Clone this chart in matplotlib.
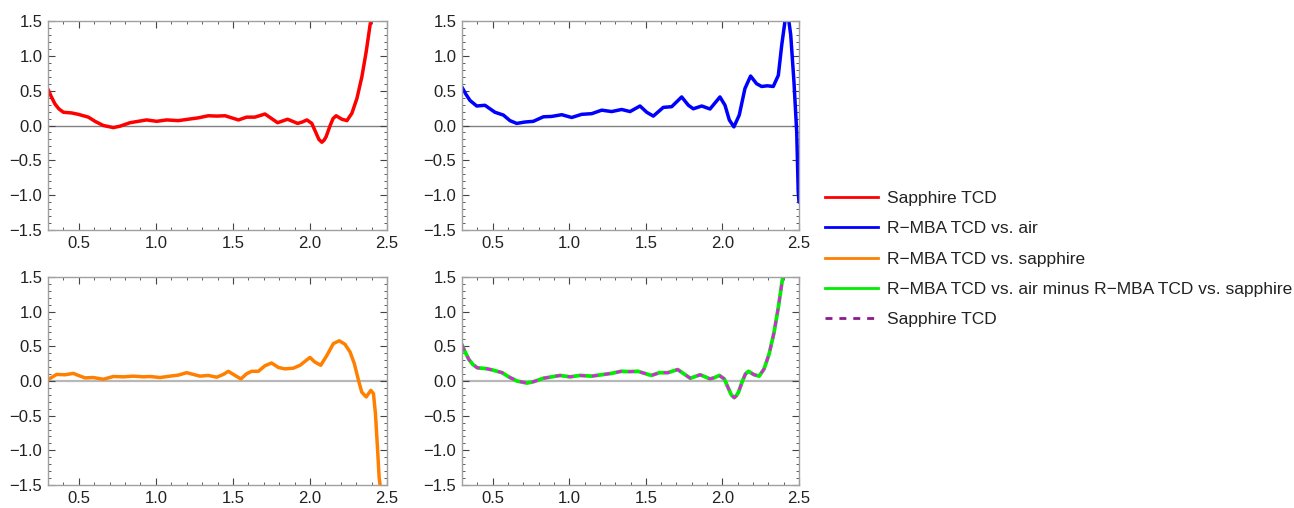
import matplotlib.pyplot as plt
from matplotlib.lines import Line2D
from matplotlib.ticker import MultipleLocator

plt.rcParams["font.family"] = ["Liberation Sans", "DejaVu Sans"]

# values
sapphire_x = [0.300, 0.320, 0.345, 0.370, 0.400, 0.454, 0.497, 0.562, 0.605, 0.659,
              0.724, 0.767, 0.832, 0.886, 0.940, 1.005, 1.070, 1.146, 1.210, 1.276,
              1.340, 1.395, 1.449, 1.492, 1.536, 1.589, 1.643, 1.708, 1.751, 1.790,
              1.855, 1.920, 1.950, 1.980, 2.012, 2.040, 2.058, 2.077, 2.092, 2.105,
              2.131, 2.150, 2.170, 2.207, 2.240, 2.272, 2.305, 2.337, 2.365, 2.390,
              2.420]
sapphire_y = [0.52, 0.42, 0.31, 0.24, 0.19, 0.18, 0.16, 0.12, 0.06, 0.00,
              -0.03, -0.01, 0.04, 0.06, 0.08, 0.06, 0.08, 0.07, 0.09, 0.11,
              0.14, 0.135, 0.14, 0.11, 0.08, 0.12, 0.12, 0.165, 0.10, 0.04,
              0.09, 0.03, 0.05, 0.08, 0.03, -0.11, -0.20, -0.24, -0.21, -0.16,
              0.00, 0.10, 0.14, 0.09, 0.07, 0.175, 0.39, 0.70, 1.06, 1.44,
              1.85]

air_x = [0.300, 0.325, 0.352, 0.396, 0.450, 0.515, 0.570, 0.613, 0.657, 0.711,
         0.766, 0.831, 0.885, 0.951, 1.016, 1.081, 1.147, 1.212, 1.277, 1.342,
         1.397, 1.462, 1.506, 1.549, 1.614, 1.669, 1.734, 1.778, 1.810, 1.865,
         1.919, 1.984, 2.017, 2.045, 2.075, 2.110, 2.147, 2.184, 2.223, 2.256,
         2.293, 2.332, 2.365, 2.387, 2.408, 2.418, 2.430, 2.446, 2.467, 2.485,
         2.495, 2.500]
air_y = [0.55, 0.45, 0.36, 0.28, 0.29, 0.19, 0.15, 0.07, 0.03, 0.05,
         0.06, 0.125, 0.13, 0.155, 0.115, 0.16, 0.17, 0.22, 0.20, 0.23,
         0.20, 0.28, 0.19, 0.135, 0.26, 0.27, 0.41, 0.29, 0.24, 0.28,
         0.237, 0.41, 0.29, 0.08, -0.02, 0.15, 0.53, 0.71, 0.60, 0.56,
         0.57, 0.56, 0.72, 1.15, 1.49, 1.62, 1.56, 1.30, 0.63, -0.09,
         -0.95, -1.10]

vs_sapphire_x = [0.300, 0.356, 0.410, 0.465, 0.497, 0.540, 0.594, 0.659, 0.724, 0.789,
                 0.854, 0.919, 0.962, 1.027, 1.092, 1.146, 1.200, 1.243, 1.286, 1.340,
                 1.395, 1.438, 1.470, 1.514, 1.552, 1.589, 1.622, 1.665, 1.708, 1.751,
                 1.795, 1.838, 1.892, 1.936, 2.000, 2.031, 2.070, 2.110, 2.152, 2.190,
                 2.227, 2.260, 2.288, 2.315, 2.336, 2.365, 2.395, 2.412, 2.425, 2.438,
                 2.449, 2.455, 2.470]
vs_sapphire_y = [0.02, 0.095, 0.09, 0.11, 0.08, 0.045, 0.05, 0.025, 0.065, 0.06,
                 0.07, 0.06, 0.065, 0.05, 0.07, 0.085, 0.12, 0.095, 0.07, 0.08,
                 0.055, 0.095, 0.14, 0.08, 0.03, 0.105, 0.14, 0.14, 0.22, 0.26,
                 0.195, 0.175, 0.185, 0.227, 0.34, 0.275, 0.227, 0.37, 0.54, 0.58,
                 0.53, 0.42, 0.25, 0.01, -0.16, -0.23, -0.135, -0.18, -0.47, -0.955,
                 -1.39, -1.50, -2.00]

# air minus vs. sapphire comes out the same as the sapphire TCD
difference_x = sapphire_x
difference_y = sapphire_y

legend_labels = ["Sapphire TCD", "R\u2212MBA TCD vs. air", "R\u2212MBA TCD vs. sapphire",
                 "R\u2212MBA TCD vs. air minus R\u2212MBA TCD vs. sapphire", "Sapphire TCD"]

fig = plt.figure(figsize=(12.94, 5.08), dpi=100)
W, H = 1294, 508
boxes = [(48, 21, 387, 230), (462, 21, 799, 230), (48, 277, 387, 485), (462, 277, 799, 485)]
axes = [fig.add_axes([x0 / W, 1 - y1 / H, (x1 - x0) / W, (y1 - y0) / H]) for x0, y0, x1, y1 in boxes]

for i, ax in enumerate(axes):
    ax.set_xlim(0.3, 2.5)
    ax.set_ylim(-1.5, 1.5)
    ax.xaxis.set_major_locator(MultipleLocator(0.5))
    ax.xaxis.set_minor_locator(MultipleLocator(0.1))
    ax.yaxis.set_major_locator(MultipleLocator(0.5))
    ax.yaxis.set_minor_locator(MultipleLocator(0.1))
    ax.tick_params(which="both", direction="in", top=True, right=True, color="#444444")
    ax.tick_params(which="major", length=5, width=0.8, labelsize=12, labelcolor="#222222", pad=4)
    ax.tick_params(which="minor", length=2.5, width=0.6)
    for s in ax.spines.values():
        s.set_color("#a0a0a0")
        s.set_linewidth(1.0)
    zero_col = "#808080" if i < 2 else "#b8b8b8"
    ax.axhline(0, color=zero_col, lw=1.0 if i < 2 else 1.6, zorder=1)
    ax.yaxis.set_major_formatter(plt.FuncFormatter(lambda v, p: f"{v:.1f}".replace("-", "\u2212")))

style = dict(lw=2.5, solid_capstyle="round", solid_joinstyle="round")
axes[0].plot(sapphire_x, sapphire_y, color="#ff0000", **style)
axes[1].plot(air_x, air_y, color="#0000ff", **style)
axes[2].plot(vs_sapphire_x, vs_sapphire_y, color="#ff8000", **style)
axes[3].plot(difference_x, difference_y, color="#00ee00", lw=2.7, solid_joinstyle="round")
axes[3].plot(sapphire_x, sapphire_y, color="#e020e0", lw=2.0, ls=(0, (2.2, 2.2)))

handles = [
    Line2D([], [], color="#ff0000", lw=2),
    Line2D([], [], color="#0000ff", lw=2),
    Line2D([], [], color="#ff8000", lw=2),
    Line2D([], [], color="#00ee00", lw=2),
    Line2D([], [], color="#8b1a8b", lw=2, ls=(0, (2.5, 2.5))),
]
fig.legend(handles, legend_labels, loc="center left", bbox_to_anchor=(825 / W, 1 - 259 / H),
           frameon=False, fontsize=12.5, handlelength=3.05, handletextpad=0.52,
           labelspacing=0.87, borderaxespad=0, borderpad=0, labelcolor="#222222")

fig.savefig("out.png", dpi=100)
